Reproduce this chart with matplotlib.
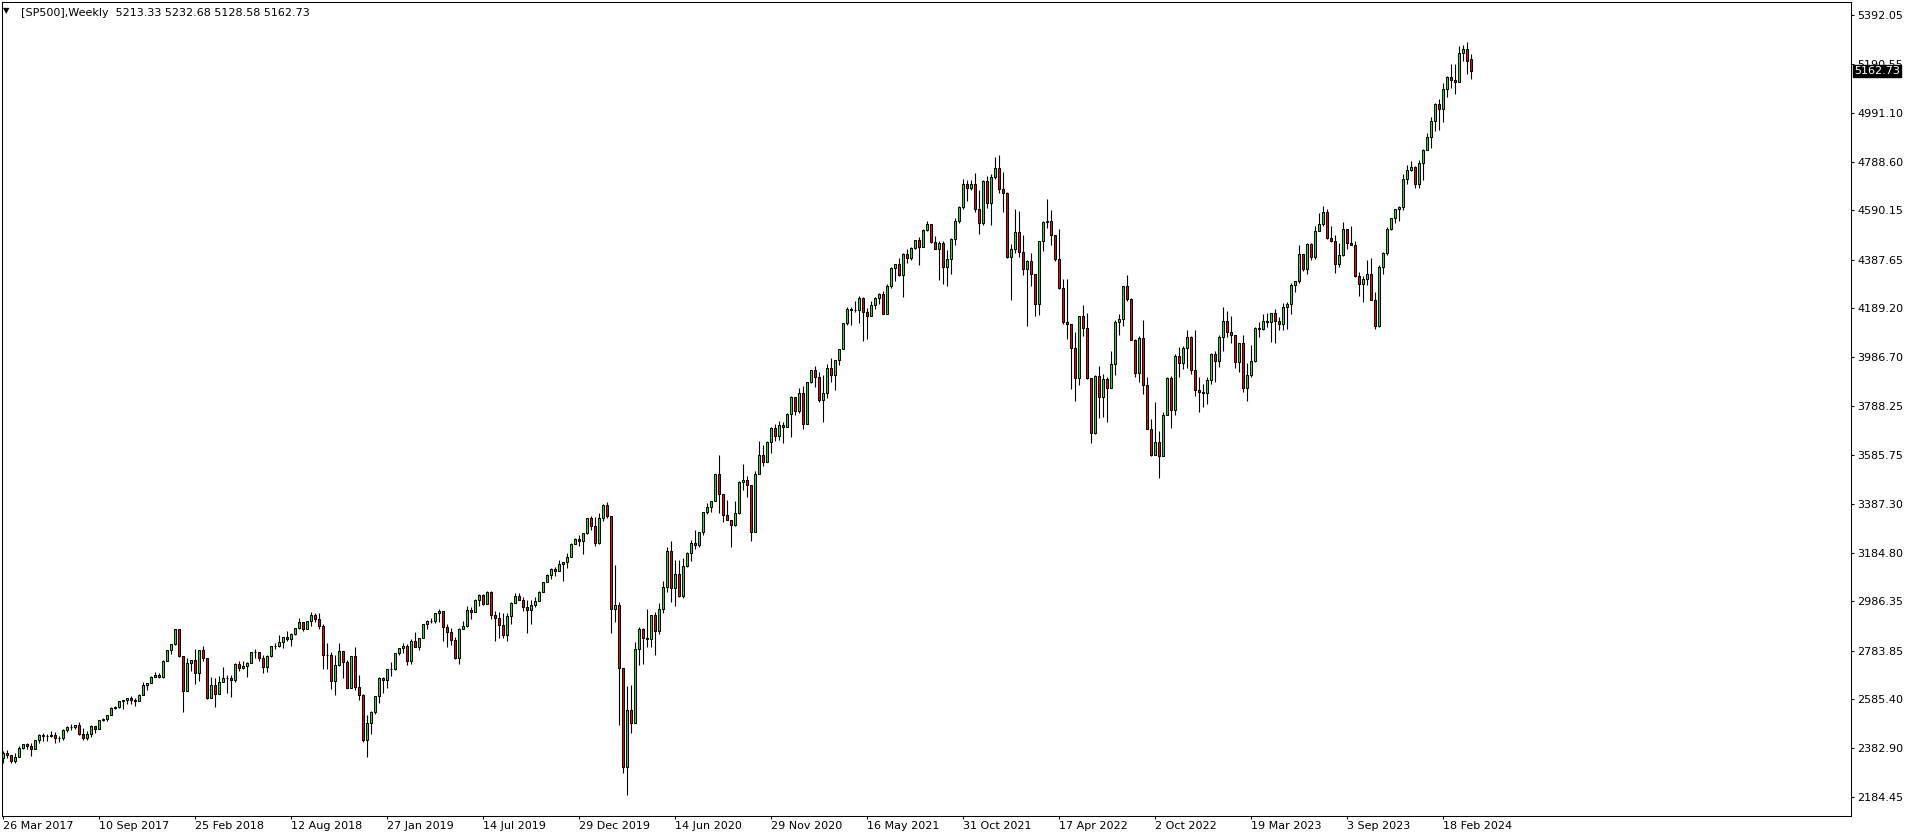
import numpy as np
import pandas as pd
import matplotlib
matplotlib.use("Agg")
import matplotlib.pyplot as plt
from matplotlib.transforms import blended_transform_factory

# ============================================================
# SP500 weekly candles, 26 Mar 2017 .. Apr 2024
# ============================================================

SYMBOL = "[SP500],Weekly"
FIRST_OPEN = 2343.98
LAST_OPEN = 5213.33

closes_2017 = [2362.72, 2355.54, 2328.95, 2348.69, 2384.20, 2399.29, 2390.90, 2381.73, 2415.82, 2439.07,
               2431.77, 2433.15, 2438.30, 2423.41, 2425.18, 2459.27, 2472.54, 2472.10, 2476.83, 2441.32,
               2425.55, 2443.05, 2476.55, 2461.43, 2500.23, 2502.22, 2519.36, 2549.33, 2553.17, 2575.21,
               2581.07, 2587.84, 2582.30, 2578.85, 2602.42, 2642.22, 2651.50, 2675.81, 2683.34, 2673.61]
highs_2017 = [2370, 2378, 2356, 2362, 2392, 2400, 2404, 2405, 2418, 2440,
              2447, 2441, 2454, 2452, 2434, 2463, 2474, 2484, 2478, 2490,
              2466, 2454, 2480, 2474, 2500, 2509, 2520, 2552, 2556, 2576,
              2582, 2588, 2597, 2590, 2605, 2657, 2652, 2679, 2695, 2692]
lows_2017 = [2322, 2344, 2322, 2323, 2348, 2379, 2381, 2353, 2381, 2405,
             2415, 2415, 2430, 2405, 2407, 2416, 2452, 2459, 2464, 2437,
             2417, 2417, 2428, 2446, 2461, 2496, 2495, 2519, 2543, 2547,
             2544, 2566, 2566, 2557, 2576, 2600, 2624, 2651, 2675, 2673]

closes_2018 = [2743.15, 2786.24, 2810.30, 2872.87, 2762.13, 2619.55, 2732.22, 2747.30, 2691.25, 2786.57,
               2752.01, 2588.26, 2640.87, 2604.47, 2656.30, 2670.14, 2669.91, 2663.42, 2727.72, 2712.97,
               2721.33, 2734.62, 2779.03, 2779.66, 2754.88, 2718.37, 2759.82, 2801.31, 2801.83, 2818.82,
               2840.35, 2833.28, 2850.13, 2874.69, 2901.52, 2871.68, 2904.98, 2929.67, 2913.98, 2885.57,
               2767.13, 2767.78, 2658.69, 2723.06, 2781.01, 2736.27, 2632.56, 2760.17, 2633.08, 2599.95,
               2416.62, 2485.74]
highs_2018 = [2745, 2787, 2813, 2873, 2870, 2763, 2755, 2747, 2790, 2786,
              2801, 2752, 2674, 2672, 2680, 2718, 2683, 2682, 2732, 2742,
              2742, 2736, 2779, 2791, 2780, 2764, 2764, 2804, 2816, 2848,
              2841, 2863, 2855, 2877, 2916, 2900, 2906, 2941, 2940, 2940,
              2895, 2816, 2778, 2767, 2816, 2782, 2747, 2761, 2800, 2685,
              2607, 2520]
lows_2018 = [2673, 2742, 2769, 2808, 2758, 2532, 2617, 2699, 2647, 2658,
             2742, 2585, 2594, 2553, 2610, 2664, 2612, 2594, 2655, 2701,
             2708, 2676, 2735, 2755, 2742, 2691, 2698, 2759, 2789, 2800,
             2795, 2825, 2802, 2850, 2874, 2864, 2871, 2886, 2903, 2874,
             2710, 2710, 2628, 2603, 2722, 2670, 2631, 2632, 2621, 2583,
             2409, 2346]

closes_2019 = [2531.94, 2596.26, 2670.71, 2664.76, 2706.53, 2707.88, 2775.60, 2792.67, 2803.69, 2743.07,
               2822.48, 2800.71, 2834.40, 2892.74, 2907.41, 2905.03, 2939.88, 2945.64, 2881.40, 2859.53,
               2826.06, 2752.06, 2873.34, 2886.98, 2950.46, 2941.76, 2990.41, 3013.77, 2976.61, 3025.86,
               2932.05, 2918.65, 2888.68, 2847.11, 2926.46, 2978.71, 3007.39, 2992.07, 2961.79, 2952.01,
               2970.27, 2986.20, 3022.55, 3066.91, 3093.08, 3120.46, 3110.29, 3140.98, 3145.91, 3168.80,
               3221.22, 3240.02]
highs_2019 = [2538, 2598, 2675, 2675, 2708, 2739, 2776, 2795, 2816, 2812,
              2831, 2860, 2836, 2893, 2910, 2918, 2940, 2955, 2946, 2892,
              2876, 2841, 2876, 2905, 2965, 2964, 2996, 3017, 3015, 3028,
              3028, 2945, 2944, 2939, 2940, 2985, 3021, 3022, 3002, 2993,
              2993, 3002, 3027, 3067, 3098, 3121, 3127, 3154, 3144, 3183,
              3226, 3247]
lows_2019 = [2443, 2524, 2571, 2612, 2631, 2681, 2703, 2766, 2774, 2723,
             2728, 2800, 2785, 2834, 2873, 2896, 2898, 2900, 2825, 2800,
             2805, 2750, 2728, 2873, 2880, 2913, 2941, 2967, 2971, 2976,
             2914, 2822, 2834, 2834, 2822, 2892, 2978, 2990, 2946, 2855,
             2892, 2962, 2986, 3023, 3064, 3078, 3091, 3110, 3070, 3124,
             3168, 3221]

closes_2020 = [3234.85, 3265.35, 3329.62, 3295.47, 3225.52, 3327.71, 3380.16, 3337.75, 2954.22, 2972.37,
               2711.02, 2304.92, 2541.47, 2488.65, 2789.82, 2874.56, 2836.74, 2830.71, 2929.80, 2863.70,
               2955.45, 3044.31, 3193.93, 3041.31, 3097.74, 3009.05, 3130.01, 3185.04, 3224.73, 3215.63,
               3271.12, 3351.28, 3372.85, 3397.16, 3508.01, 3426.96, 3340.97, 3319.47, 3298.46, 3348.44,
               3477.13, 3483.81, 3465.39, 3269.96, 3509.44, 3585.15, 3557.54, 3638.35, 3699.12, 3663.46,
               3709.41, 3703.06, 3756.07]
highs_2020 = [3258, 3268, 3330, 3338, 3333, 3347, 3385, 3393, 3338, 3136,
              2985, 2711, 2637, 2641, 2819, 2879, 2875, 2955, 2932, 2944,
              2981, 3068, 3211, 3233, 3155, 3155, 3165, 3190, 3238, 3279,
              3272, 3352, 3388, 3399, 3509, 3588, 3427, 3402, 3320, 3397,
              3479, 3550, 3502, 3465, 3522, 3646, 3628, 3645, 3700, 3712,
              3726, 3723, 3760]
lows_2020 = [3212, 3181, 3264, 3280, 3214, 3223, 3315, 3328, 2855, 2901,
             2479, 2280, 2191, 2447, 2488, 2726, 2727, 2797, 2798, 2767,
             2853, 2940, 3025, 2984, 2965, 3004, 2999, 3127, 3153, 3200,
             3209, 3260, 3346, 3354, 3397, 3349, 3310, 3322, 3209, 3297,
             3345, 3442, 3416, 3234, 3270, 3507, 3543, 3557, 3595, 3645,
             3648, 3636, 3700]

closes_2021 = [3824.68, 3768.25, 3841.47, 3714.24, 3886.83, 3934.83, 3906.71, 3811.15, 3841.94, 3943.34,
               3913.10, 3974.54, 4019.87, 4128.80, 4185.47, 4180.17, 4181.17, 4232.60, 4173.85, 4155.86,
               4204.11, 4229.89, 4247.44, 4166.45, 4280.70, 4352.34, 4369.55, 4327.16, 4411.79, 4395.26,
               4436.52, 4468.00, 4441.67, 4509.37, 4535.43, 4458.58, 4432.99, 4455.48, 4357.04, 4391.34,
               4471.37, 4544.90, 4605.38, 4697.53, 4682.85, 4697.96, 4594.62, 4538.43, 4712.02, 4620.64,
               4725.79, 4766.18]
highs_2021 = [3827, 3826, 3861, 3870, 3887, 3937, 3950, 3929, 3914, 3960,
              3983, 3978, 4020, 4130, 4192, 4194, 4219, 4238, 4236, 4191,
              4218, 4234, 4250, 4261, 4287, 4356, 4372, 4393, 4415, 4430,
              4441, 4470, 4480, 4513, 4546, 4536, 4486, 4466, 4466, 4429,
              4475, 4559, 4608, 4718, 4714, 4717, 4744, 4672, 4713, 4731,
              4740, 4808]
lows_2021 = [3662, 3749, 3760, 3694, 3714, 3884, 3865, 3805, 3723, 3819,
             3886, 3853, 3955, 4020, 4118, 4118, 4172, 4128, 4056, 4062,
             4155, 4184, 4208, 4165, 4165, 4271, 4300, 4322, 4233, 4375,
             4385, 4431, 4367, 4442, 4505, 4457, 4430, 4306, 4288, 4279,
             4329, 4448, 4537, 4595, 4630, 4672, 4585, 4495, 4529, 4600,
             4531, 4720]

closes_2022 = [4677.03, 4662.85, 4397.94, 4431.85, 4500.53, 4418.64, 4348.87, 4384.65, 4328.87, 4204.31,
               4463.12, 4543.06, 4545.86, 4488.28, 4392.59, 4271.78, 4131.93, 4123.34, 4023.89, 3901.36,
               4158.24, 4108.54, 3900.86, 3674.84, 3911.74, 3825.33, 3899.38, 3863.16, 3961.63, 4130.29,
               4145.19, 4280.15, 4228.48, 4057.66, 3924.26, 4067.36, 3873.33, 3693.23, 3585.62, 3639.66,
               3583.07, 3752.75, 3901.06, 3770.55, 3992.93, 3965.34, 4026.12, 4071.70, 3934.38, 3852.36,
               3844.82, 3839.50]
highs_2022 = [4819, 4749, 4664, 4453, 4596, 4589, 4490, 4385, 4416, 4327,
              4465, 4546, 4637, 4593, 4488, 4513, 4309, 4307, 4124, 4090,
              4159, 4204, 4168, 3901, 3913, 3950, 3918, 3907, 4013, 4140,
              4167, 4280, 4325, 4229, 4062, 4076, 4140, 3908, 3733, 3806,
              3685, 3763, 3905, 3912, 4001, 4029, 4034, 4101, 4076, 4101,
              3906, 3877]
lows_2022 = [4662, 4582, 4395, 4222, 4414, 4401, 4327, 4114, 4279, 4157,
             4161, 4424, 4517, 4450, 4381, 4267, 4124, 4062, 3858, 3810,
             3875, 4074, 3900, 3637, 3674, 3738, 3742, 3721, 3860, 3913,
             4079, 4115, 4218, 4057, 3906, 3886, 3838, 3693, 3584, 3585,
             3492, 3583, 3753, 3699, 3751, 3907, 3938, 3943, 3919, 3828,
             3765, 3784]

closes_2023 = [3895.08, 3999.09, 3972.61, 4070.56, 4136.48, 4090.46, 4079.09, 3970.04, 4045.64, 3861.59,
               3916.64, 3970.99, 4109.31, 4105.02, 4137.64, 4133.52, 4169.48, 4136.25, 4124.08, 4191.98,
               4205.45, 4282.37, 4298.86, 4409.59, 4348.33, 4450.38, 4398.95, 4505.42, 4536.34, 4582.23,
               4478.03, 4464.05, 4369.71, 4405.71, 4515.77, 4457.49, 4450.32, 4320.06, 4288.05, 4308.50,
               4327.78, 4224.16, 4117.37, 4358.34, 4415.24, 4514.02, 4559.34, 4594.63, 4604.37, 4719.19,
               4754.63, 4769.83]
highs_2023 = [3906, 4004, 4015, 4078, 4195, 4176, 4156, 4079, 4048, 4078,
              3964, 4039, 4110, 4133, 4164, 4170, 4170, 4187, 4154, 4212,
              4213, 4291, 4299, 4449, 4410, 4458, 4456, 4528, 4578, 4607,
              4595, 4527, 4490, 4458, 4541, 4514, 4527, 4466, 4339, 4320,
              4385, 4394, 4255, 4366, 4421, 4521, 4560, 4598, 4609, 4738,
              4778, 4793]
lows_2023 = [3794, 3877, 3885, 3949, 4015, 4070, 4048, 3943, 3928, 3847,
             3809, 3906, 3970, 4069, 4098, 4113, 4049, 4048, 4099, 4098,
             4103, 4167, 4257, 4293, 4341, 4328, 4385, 4389, 4505, 4528,
             4474, 4461, 4335, 4356, 4405, 4431, 4450, 4316, 4238, 4216,
             4283, 4223, 4104, 4113, 4329, 4406, 4510, 4537, 4546, 4593,
             4699, 4751]

closes_2024 = [4697.24, 4783.83, 4839.81, 4890.97, 4958.61, 5026.61, 5005.57, 5088.80, 5137.08, 5123.69,
               5117.09, 5234.18, 5254.35, 5204.34, 5162.73]
highs_2024 = [4772, 4798, 4843, 4907, 4975, 5030, 5048, 5111, 5140, 5190,
              5190, 5265, 5270, 5280, 5232.68]
lows_2024 = [4682, 4682, 4714, 4837, 4845, 4918, 4920, 4954, 5057, 5091,
             5066, 5118, 5203, 5150, 5128.58]

# price scale labels on the right
y_tick_labels = ["5392.05", "5190.55", "4991.10", "4788.60", "4590.15", "4387.65", "4189.20",
                 "3986.70", "3788.25", "3585.75", "3387.30", "3184.80", "2986.35", "2783.85",
                 "2585.40", "2382.90", "2184.45"]

# time scale labels at the bottom
x_tick_labels = ["26 Mar 2017", "10 Sep 2017", "25 Feb 2018", "12 Aug 2018", "27 Jan 2019",
                 "14 Jul 2019", "29 Dec 2019", "14 Jun 2020", "29 Nov 2020", "16 May 2021",
                 "31 Oct 2021", "17 Apr 2022", "2 Oct 2022", "19 Mar 2023", "3 Sep 2023",
                 "18 Feb 2024"]

# -----------------------------
# Series
# -----------------------------
closes = (closes_2017 + closes_2018 + closes_2019 + closes_2020
          + closes_2021 + closes_2022 + closes_2023 + closes_2024)
highs = (highs_2017 + highs_2018 + highs_2019 + highs_2020
         + highs_2021 + highs_2022 + highs_2023 + highs_2024)
lows = (lows_2017 + lows_2018 + lows_2019 + lows_2020
        + lows_2021 + lows_2022 + lows_2023 + lows_2024)

# weekly open = previous week's close
opens = [FIRST_OPEN] + closes[:-1]
opens[-1] = LAST_OPEN

o = np.array(opens)
h = np.array(highs, dtype=float)
l = np.array(lows, dtype=float)
c = np.array(closes)

weeks = pd.date_range("2017-03-26", periods=len(c), freq="7D")
x = np.arange(len(c))

# -----------------------------
# Figure
# -----------------------------
W, H = 1914, 840
plt.rcParams["font.family"] = ["DejaVu Sans"]

fig = plt.figure(figsize=(W / 100, H / 100), dpi=100)
ax = fig.add_axes([2 / W, 1 - 816 / H, (1851 - 2) / W, (816 - 2) / H])

ax.vlines(x, l, h, color="black", linewidth=0.8, zorder=1)

body_bottom = np.minimum(o, c)
body_height = np.abs(c - o)
colors = np.where(c >= o, "#00ff00", "#ff0000")
ax.bar(x, body_height, bottom=body_bottom, width=0.5, color=colors,
       edgecolor="black", linewidth=0.75, zorder=2)

ax.set_xlim(-0.25, 462)
ax.set_ylim(2105.3, 5445.4)

# x ticks at the weeks named by the labels
x_pos = [weeks.get_loc(pd.to_datetime(s, format="%d %b %Y")) for s in x_tick_labels]
ax.set_xticks(x_pos)
ax.set_xticklabels(x_tick_labels, ha="left")
ax.tick_params(axis="x", direction="out", length=2.2, width=0.75, pad=1.5,
               labelsize=8, colors="black")

ax.yaxis.tick_right()
ax.set_yticks([float(v) for v in y_tick_labels])
ax.set_yticklabels(y_tick_labels)
ax.tick_params(axis="y", direction="out", length=1.8, width=0.75, pad=2.5,
               labelsize=8, colors="black")

for sp in ax.spines.values():
    sp.set_linewidth(0.75)
    sp.set_color("black")

# current price box (sits over the 5190.55 scale label, as in the terminal)
trans = blended_transform_factory(ax.transAxes, ax.transData)
ax.text(1 + 3 / 1849, c[-1], f"{c[-1]:.2f}", transform=trans, ha="left", va="center",
        fontsize=8, color="white", zorder=10, clip_on=False,
        bbox=dict(boxstyle="square,pad=0.12", fc="black", ec="black"))

# header
fig.text(3 / W, 1 - 11 / H, "\u25bc", fontsize=6, va="center", ha="left", color="black")
fig.text(21 / W, 1 - 12.5 / H,
         f"{SYMBOL}  {o[-1]:.2f} {h[-1]:.2f} {l[-1]:.2f} {c[-1]:.2f}",
         fontsize=8, va="center", ha="left", color="black")

fig.savefig("out.png", dpi=100)
